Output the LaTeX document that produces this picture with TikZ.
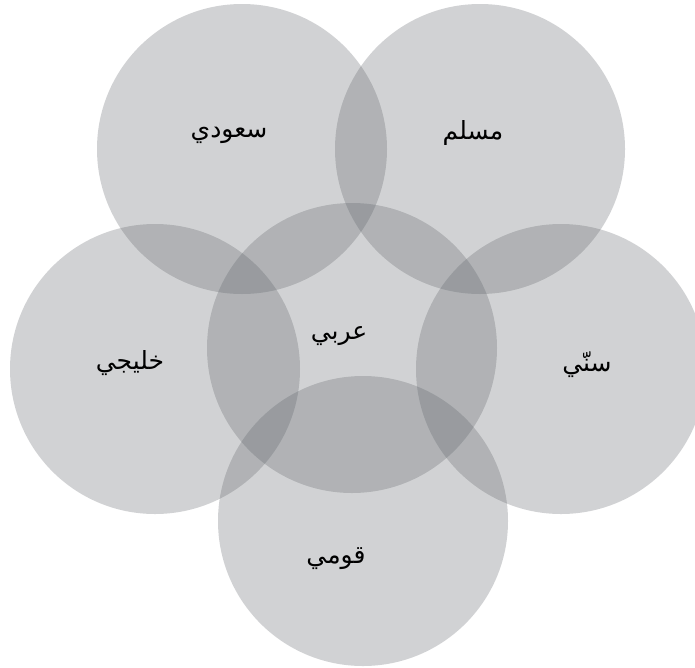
\documentclass[tikz,border=0pt]{standalone}
\usepackage{fontspec}
\newfontfamily\arabicfont[Script=Arabic]{DejaVu Sans}
\TeXXeTstate=1
\definecolor{circfill}{RGB}{91,95,101}
\tikzset{
  setcircle/.style={fill=circfill, fill opacity=0.28},
  lbl/.style={font=\arabicfont\fontsize{25}{28}\selectfont, text=black, inner sep=0pt}
}
\begin{document}
\begin{tikzpicture}[x=1pt,y=-1pt]
\useasboundingbox (0,0) rectangle (695,667);
\clip (0,0) rectangle (695,667);
\fill[setcircle] (242,149) circle[radius=145];
\fill[setcircle] (480,149) circle[radius=145];
\fill[setcircle] (155,369) circle[radius=145];
\fill[setcircle] (561,369) circle[radius=145];
\fill[setcircle] (363,521) circle[radius=145];
\fill[setcircle] (352,348) circle[radius=145];
\node[lbl] (saudi) at (229,135) {\beginR سعودي\endR};
\node[lbl] (muslim) at (473,133) {\beginR مسلم\endR};
\node[lbl] (arabi) at (339,336) {\beginR عربي\endR};
\node[lbl] (khaliji) at (130,363) {\beginR خليجي\endR};
\node[lbl] (sunni) at (587,365) {\beginR سنّي\endR};
\node[lbl] (qawmi) at (336,559) {\beginR قومي\endR};
\end{tikzpicture}
\end{document}
